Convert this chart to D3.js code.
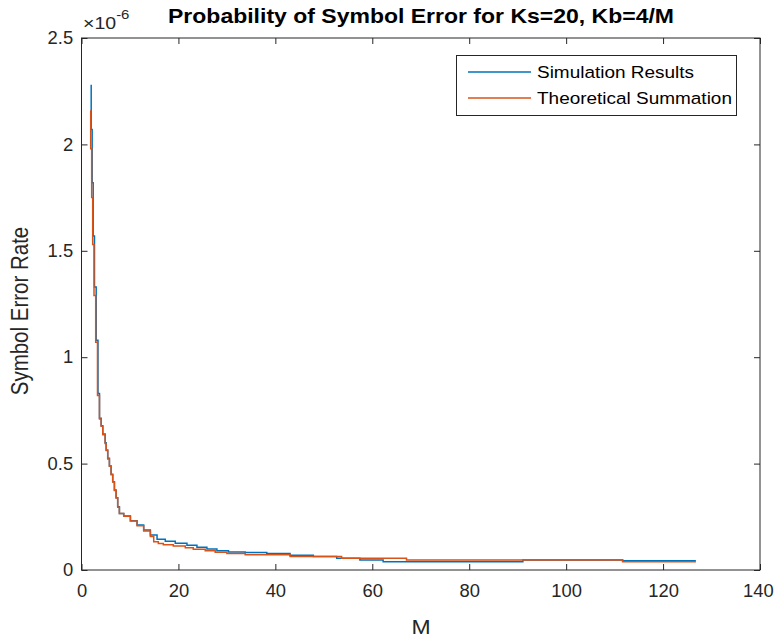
<!DOCTYPE html>
<html>
<head>
<meta charset="utf-8">
<script src="https://cdn.jsdelivr.net/npm/d3@7"></script>
<style>
  body { margin: 0; background: #fff; }
  text { font-family: "Liberation Sans", Arial, sans-serif; }
</style>
</head>
<body>
<script>
// values (SER in units of 1e-6)
const simM = [2.0, 2.0, 2.2, 2.41, 2.68, 3.03, 3.40, 3.71, 4.06, 4.39, 4.88, 5.09, 5.41, 5.76, 6.11, 6.44, 6.79, 7.14, 7.47, 7.82,
  8.71, 10.09, 11.47, 12.83, 14.21, 15.59, 17.29, 19.35, 21.76, 23.82, 25.88, 27.94, 30.33, 33.77, 38.23, 43.03, 47.83, 52.65,
  57.44, 62.24, 91.07, 111.65, 126.77];
const simSER = [2.28, 2.07, 1.82, 1.57, 1.33, 1.08, 0.83, 0.713, 0.678, 0.639, 0.598, 0.564, 0.525, 0.489, 0.450, 0.415, 0.376, 0.340, 0.297, 0.266,
  0.254, 0.232, 0.212, 0.188, 0.164, 0.144, 0.135, 0.126, 0.116, 0.107, 0.099, 0.091, 0.085, 0.082, 0.077, 0.069, 0.063, 0.055,
  0.047, 0.039, 0.047, 0.044, 0.044];

const theoM = [1.9, 1.9, 2.1, 2.31, 2.58, 2.93, 3.30, 3.71, 4.06, 4.39, 4.88, 5.09, 5.41, 5.76, 6.11, 6.44, 6.79, 7.14, 7.47, 7.82,
  8.71, 10.09, 11.47, 12.83, 14.21, 14.9, 15.85, 16.88, 18.94, 21.41, 23.06, 25.53, 27.59, 30.0, 33.77, 43.03, 53.67, 67.06,
  111.65, 126.77];
const theoSER = [2.16, 1.98, 1.75, 1.53, 1.29, 1.07, 0.82, 0.71, 0.675, 0.636, 0.595, 0.562, 0.522, 0.487, 0.448, 0.413, 0.374, 0.338, 0.295, 0.265,
  0.252, 0.230, 0.208, 0.183, 0.158, 0.133, 0.125, 0.119, 0.113, 0.105, 0.098, 0.091, 0.084, 0.077, 0.072, 0.063, 0.055, 0.047,
  0.039, 0.039];

const xTicks = [0, 20, 40, 60, 80, 100, 120, 140];
const yTicks = [0, 0.5, 1, 1.5, 2, 2.5];
const seriesNames = ["Simulation Results", "Theoretical Summation"];
const seriesColors = ["#0072BD", "#D95319"];

const W = 774, H = 638;
const SX = 1.15; // the reference text is a bit wide
const ink = "#262626";

const svg = d3.select("body").append("svg")
  .attr("width", W)
  .attr("height", H);

const x = d3.scaleLinear().domain([0, 140]).range([81.5, 760]);
const y = d3.scaleLinear().domain([0, 2.5]).range([570, 38]);

// white axes background
svg.append("rect")
  .attr("x", x(0)).attr("y", y(2.5))
  .attr("width", x(140) - x(0)).attr("height", y(0) - y(2.5))
  .attr("fill", "#fff");

// helper for sideways stretched text
function stext(px, py, str, size, anchor, weight) {
  return svg.append("text")
    .attr("transform", `translate(${px},${py}) scale(${SX},1)`)
    .attr("text-anchor", anchor || "middle")
    .attr("font-size", size)
    .attr("font-weight", weight || "normal")
    .attr("fill", ink)
    .text(str);
}

// axes, ticks pointing inward like matlab
const fmt = (d) => d3.format("~g")(d);
const xAxis = svg.append("g")
  .attr("transform", `translate(0,${y(0)})`)
  .call(d3.axisBottom(x).tickValues(xTicks).tickSize(-6).tickSizeOuter(0).tickPadding(15).tickFormat(fmt));
const xTop = svg.append("g")
  .attr("transform", `translate(0,${y(2.5)})`)
  .call(d3.axisTop(x).tickValues(xTicks).tickSize(-6).tickSizeOuter(0).tickFormat(""));
const yAxis = svg.append("g")
  .attr("transform", `translate(${x(0)},0)`)
  .call(d3.axisLeft(y).tickValues(yTicks).tickSize(-6).tickSizeOuter(0).tickPadding(8).tickFormat(fmt));
const yRight = svg.append("g")
  .attr("transform", `translate(${x(140)},0)`)
  .call(d3.axisRight(y).tickValues(yTicks).tickSize(-6).tickSizeOuter(0).tickFormat(""));

[xAxis, xTop, yAxis, yRight].forEach((g) => {
  g.select(".domain").remove();
  g.selectAll("line").attr("stroke", ink);
  g.selectAll("text")
    .attr("fill", ink)
    .attr("font-size", 17.5)
    .attr("font-family", "Liberation Sans, Arial, sans-serif")
    .attr("transform", "scale(1.05,1)");
});
// keep the last x label inside the picture
xAxis.selectAll(".tick text").filter((d) => d === 140).attr("dx", -2);

svg.append("rect")
  .attr("x", x(0)).attr("y", y(2.5))
  .attr("width", x(140) - x(0)).attr("height", y(0) - y(2.5))
  .attr("fill", "none")
  .attr("stroke", ink)
  .attr("stroke-width", 1);

// the two step lines
const line = d3.line()
  .x((d) => x(d[0]))
  .y((d) => y(d[1]))
  .curve(d3.curveStepAfter);

const series = [
  d3.zip(simM, simSER),
  d3.zip(theoM, theoSER)
];

svg.append("g")
  .selectAll("path")
  .data(series)
  .enter()
  .append("path")
  .attr("d", line)
  .attr("fill", "none")
  .attr("stroke", (d, i) => seriesColors[i])
  .attr("stroke-width", 1.5);

// title, labels, exponent
stext(421, 23, "Probability of Symbol Error for Ks=20, Kb=4/M", 20, "middle", "bold").attr("fill", "#000");
stext(421, 634, "M", 20);
svg.append("text")
  .attr("transform", `translate(28,311) rotate(-90) scale(1,${SX})`)
  .attr("text-anchor", "middle")
  .attr("font-size", 20.5)
  .attr("fill", ink)
  .text("Symbol Error Rate");

const expo = stext(83, 29, "", 17, "start");
expo.append("tspan").text("\u00d710");
expo.append("tspan").attr("font-size", 13).attr("dy", -10).text("-6");

// legend
const legend = svg.append("g");
legend.append("rect")
  .attr("x", 456.5).attr("y", 55.5)
  .attr("width", 280).attr("height", 60)
  .attr("fill", "#fff")
  .attr("stroke", ink);

seriesNames.forEach((name, i) => {
  const ly = 72 + i * 26;
  legend.append("line")
    .attr("x1", 468).attr("x2", 531)
    .attr("y1", ly).attr("y2", ly)
    .attr("stroke", seriesColors[i])
    .attr("stroke-width", 1.5);
  stext(537, ly + 6, name, 16.5, "start").attr("fill", "#000");
});
</script>
</body>
</html>
